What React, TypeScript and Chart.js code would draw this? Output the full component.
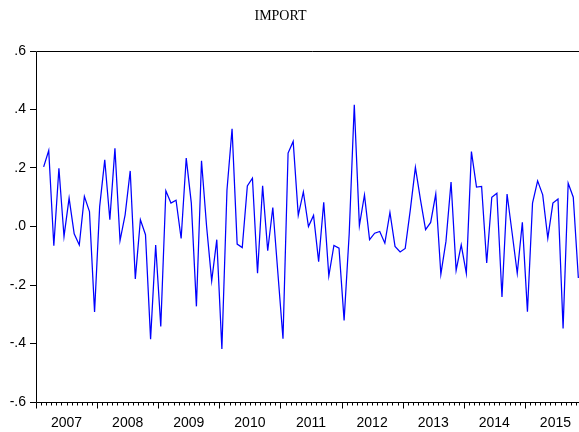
import React, { useEffect, useRef } from "react";
import { Chart, registerables } from "chart.js";

Chart.register(...registerables);

const TITLE = "IMPORT";
const FIRST_YEAR = 2007;
const YEARS = [2007, 2008, 2009, 2010, 2011, 2012, 2013, 2014, 2015];
// first observation: Feb 2007 (month offset 1 from Jan 2007)
const FIRST_MONTH_OFFSET = 1;
const Y_TICKS = [-0.6, -0.4, -0.2, 0.0, 0.2, 0.4, 0.6];

// Monthly values, Feb 2007 .. Nov 2015
const IMPORT_VALUES = [
  0.204, 0.26, -0.066, 0.199, -0.034, 0.097, -0.025, -0.063, 0.103, 0.051, -0.292,
  0.068, 0.228, 0.023, 0.267, -0.048, 0.04, 0.19, -0.179, 0.023, -0.028, -0.385, -0.063,
  -0.342, 0.122, 0.08, 0.09, -0.041, 0.234, 0.08, -0.273, 0.225, 0.0, -0.186, -0.045,
  -0.419, 0.125, 0.334, -0.06, -0.072, 0.139, 0.165, -0.16, 0.139, -0.083, 0.065, -0.16,
  -0.384, 0.251, 0.291, 0.038, 0.118, 0.0, 0.038, -0.12, 0.083, -0.169, -0.065, -0.074,
  -0.321, -0.025, 0.416, 0.003, 0.108, -0.045, -0.023, -0.017, -0.057, 0.048, -0.068,
  -0.087, -0.075, 0.057, 0.202, 0.091, -0.011, 0.014, 0.111, -0.163, -0.051, 0.152,
  -0.15, -0.063, -0.16, 0.256, 0.135, 0.137, -0.125, 0.1, 0.114, -0.241, 0.111, -0.023,
  -0.16, 0.014, -0.291, 0.08, 0.156, 0.108, -0.04, 0.08, 0.094, -0.349, 0.148, 0.1, -0.176,
];

const fmtY = (v: number) => {
  const r = Math.round(v * 10);
  if (r === 0) return ".0";
  return (r < 0 ? "-" : "") + "." + Math.abs(r);
};

const framePlugin = {
  id: "eviewsFrame",
  afterDraw(chart: any) {
    const { ctx, chartArea: a, scales } = chart;
    const x = scales.x;
    ctx.save();
    ctx.strokeStyle = "#000";
    ctx.lineWidth = 1;
    ctx.beginPath();
    const top = Math.round(a.top) + 0.5;
    const bottom = Math.round(a.bottom) + 0.5;
    const left = Math.round(a.left) + 0.5;
    ctx.moveTo(a.right + 2, top);
    ctx.lineTo(left, top);
    ctx.lineTo(left, bottom);
    ctx.lineTo(a.right + 2, bottom);
    const total = YEARS.length * 12;
    for (let m = 0; m <= total; m++) {
      const px = Math.round(x.getPixelForValue(m)) + 0.5;
      const len = m % 12 === 0 ? 6 : 3;
      ctx.moveTo(px, bottom);
      ctx.lineTo(px, bottom + len);
    }
    ctx.stroke();
    ctx.font = '14px "Liberation Serif", "Times New Roman", serif';
    ctx.textAlign = "center";
    ctx.textBaseline = "middle";
    ctx.fillStyle = "#000";
    ctx.fillText(TITLE, 280.5, 16);
    ctx.restore();
  },
};

export default function App() {
  const ref = useRef<HTMLCanvasElement | null>(null);
  useEffect(() => {
    if (!ref.current) return;
    const points = IMPORT_VALUES.map((v, i) => ({ x: FIRST_MONTH_OFFSET + i + 0.5, y: v }));
    const chart = new Chart(ref.current, {
      type: "line",
      data: {
        datasets: [
          {
            label: TITLE,
            data: points,
            borderColor: "#0000ff",
            borderWidth: 1.25,
            pointRadius: 0,
            tension: 0,
            fill: false,
          },
        ],
      },
      plugins: [framePlugin],
      options: {
        responsive: false,
        animation: false,
        layout: { padding: { top: 51, right: 14, left: 0, bottom: 0 } },
        plugins: { legend: { display: false }, title: { display: false }, tooltip: { enabled: false } },
        scales: {
          x: {
            type: "linear",
            min: 0,
            max: YEARS.length * 12,
            afterFit: (s: any) => {
              s.height = 30;
            },
            afterBuildTicks: (s: any) => {
              s.ticks = YEARS.map((_, i) => ({ value: i * 12 + 6 }));
            },
            grid: { display: false, drawTicks: false },
            border: { display: false },
            ticks: {
              autoSkip: false,
              maxRotation: 0,
              padding: 13,
              color: "#000",
              font: { family: '"Liberation Sans", Arial, sans-serif', size: 14 },
              callback: (v: any) => String(FIRST_YEAR + Math.floor(Number(v) / 12)),
            },
          },
          y: {
            min: Y_TICKS[0],
            max: Y_TICKS[Y_TICKS.length - 1],
            afterFit: (s: any) => {
              s.width = 36;
            },
            afterBuildTicks: (s: any) => {
              s.ticks = Y_TICKS.map((v) => ({ value: v }));
            },
            grid: { display: true, drawOnChartArea: false, drawTicks: true, tickLength: 6, color: "#000", lineWidth: 1 },
            border: { display: false },
            ticks: {
              padding: 4,
              color: "#000",
              font: { family: '"Liberation Sans", Arial, sans-serif', size: 14 },
              callback: (v: any) => fmtY(Number(v)),
            },
          },
        },
      },
    });
    return () => chart.destroy();
  }, []);
  return (
    <div style={{ position: "absolute", left: 0, top: 0, width: 579, height: 432, overflow: "hidden", background: "#fff" }}>
      <canvas ref={ref} width={600} height={432} style={{ width: 600, height: 432, display: "block" }} />
    </div>
  );
}
